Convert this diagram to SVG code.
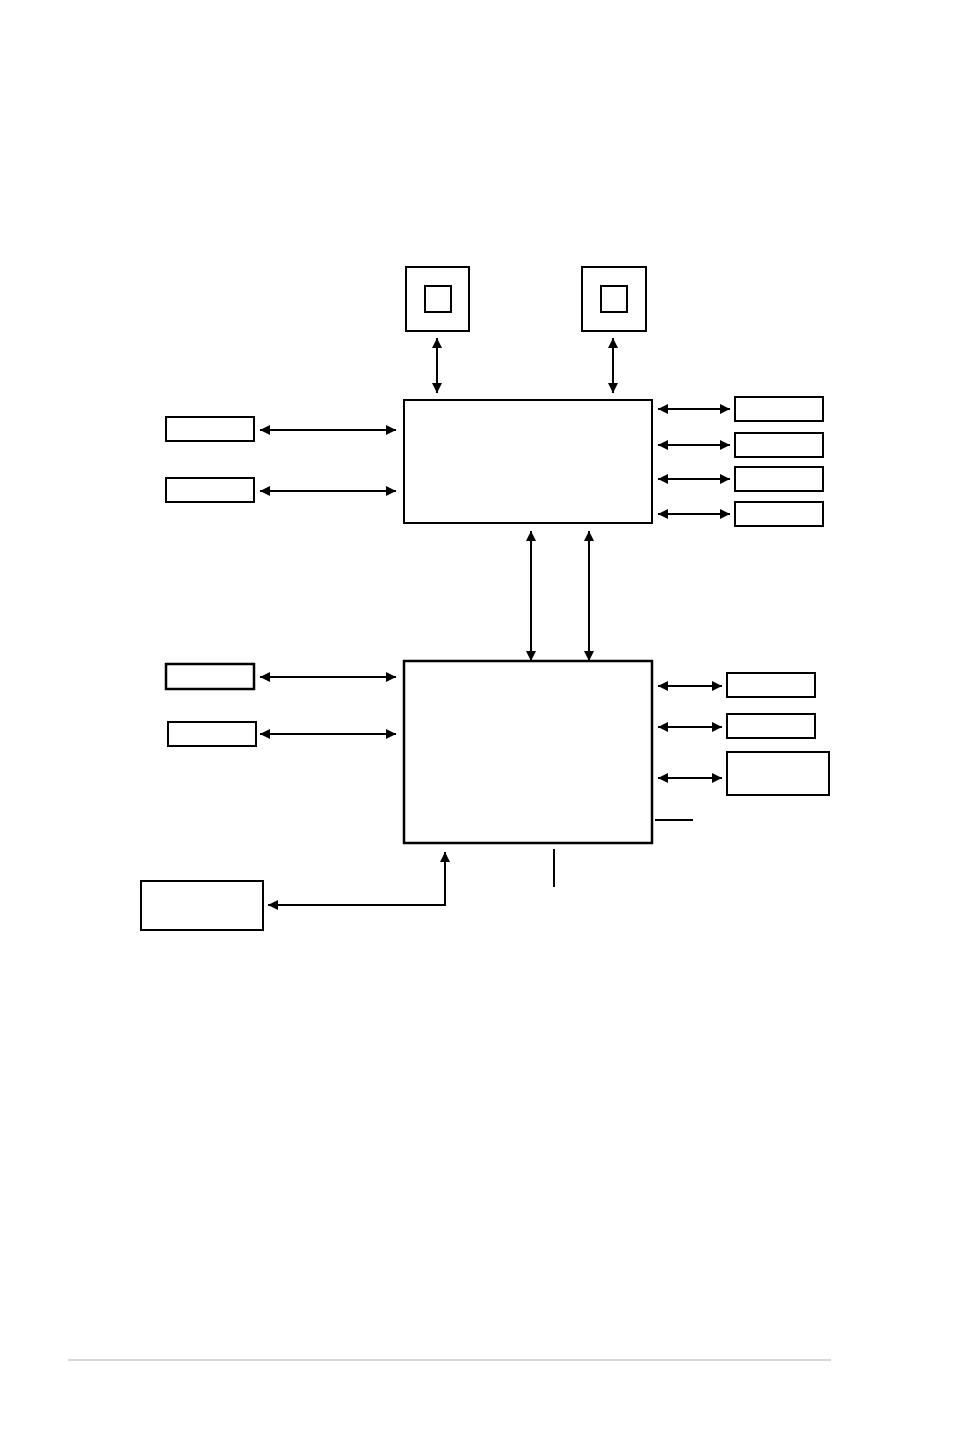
<svg xmlns="http://www.w3.org/2000/svg" width="954" height="1437" viewBox="0 0 954 1437">
<style>
.box{fill:#fff;stroke:#000;stroke-width:2}
.thick{stroke-width:2.5}
.c{fill:none;stroke:#000;stroke-width:2;marker-start:url(#ah);marker-end:url(#ah)}
.ln{fill:none;stroke:#000;stroke-width:2}
</style>
<defs>
<marker id="ah" viewBox="0 0 10 10" refX="10" refY="5" markerWidth="11" markerHeight="10" markerUnits="userSpaceOnUse" orient="auto-start-reverse">
<path d="M0,0 L10,5 L0,10 Z" fill="#000"/>
</marker>
</defs>
<rect width="954" height="1437" fill="#fff"/>
<g id="cpu1"><rect class="box" x="406" y="267" width="63" height="64"/><rect class="box" x="425" y="286" width="26" height="26"/></g>
<g id="cpu2"><rect class="box" x="582" y="267" width="64" height="64"/><rect class="box" x="601" y="286" width="26" height="26"/></g>
<g id="nb"><rect class="box" x="404" y="400" width="248" height="123"/></g>
<g id="sb"><rect class="box thick" x="404" y="661" width="248" height="182"/></g>
<g id="l1"><rect class="box" x="166" y="417" width="88" height="24"/></g>
<g id="l2"><rect class="box" x="166" y="478" width="88" height="24"/></g>
<g id="r1"><rect class="box" x="735" y="397" width="88" height="24"/></g>
<g id="r2"><rect class="box" x="735" y="433" width="88" height="24"/></g>
<g id="r3"><rect class="box" x="735" y="467" width="88" height="24"/></g>
<g id="r4"><rect class="box" x="735" y="502" width="88" height="24"/></g>
<g id="l3"><rect class="box thick" x="166" y="664" width="88" height="25"/></g>
<g id="l4"><rect class="box" x="168" y="722" width="88" height="24"/></g>
<g id="r5"><rect class="box" x="727" y="673" width="88" height="24"/></g>
<g id="r6"><rect class="box" x="727" y="714" width="88" height="24"/></g>
<g id="r7"><rect class="box" x="727" y="752" width="102" height="43"/></g>
<g id="bl"><rect class="box" x="141" y="881" width="122" height="49"/></g>
<g id="connectors">
<line class="c" x1="437" y1="338" x2="437" y2="393"/>
<line class="c" x1="613" y1="338" x2="613" y2="393"/>
<line class="c" x1="260" y1="430" x2="396" y2="430"/>
<line class="c" x1="260" y1="491" x2="396" y2="491"/>
<line class="c" x1="658" y1="409" x2="730" y2="409"/>
<line class="c" x1="658" y1="445" x2="730" y2="445"/>
<line class="c" x1="658" y1="479" x2="730" y2="479"/>
<line class="c" x1="658" y1="514" x2="730" y2="514"/>
<line class="c" x1="531" y1="531" x2="531" y2="661"/>
<line class="c" x1="589" y1="531" x2="589" y2="661"/>
<line class="c" x1="260" y1="677" x2="396" y2="677"/>
<line class="c" x1="260" y1="734" x2="396" y2="734"/>
<line class="c" x1="658" y1="686" x2="722" y2="686"/>
<line class="c" x1="658" y1="727" x2="722" y2="727"/>
<line class="c" x1="658" y1="778" x2="722" y2="778"/>
<polyline class="c" points="445,852 445,905 268,905"/>
<line class="ln" x1="655" y1="820" x2="693" y2="820"/>
<line class="ln" x1="554" y1="849" x2="554" y2="887"/>
</g>
<line x1="68" y1="1360" x2="831" y2="1360" stroke="#d8d8d8" stroke-width="2"/>
</svg>
